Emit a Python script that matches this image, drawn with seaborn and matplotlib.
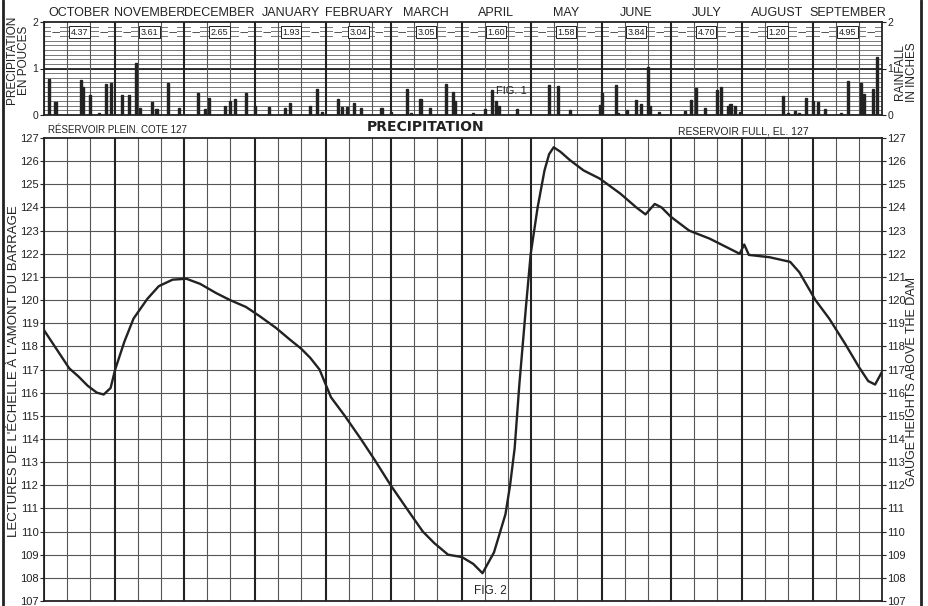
import matplotlib
matplotlib.use("Agg")
import matplotlib.pyplot as plt
from matplotlib.lines import Line2D
import seaborn as sns
import numpy as np
import pandas as pd

# ---------------- data ----------------
months = ["OCTOBER", "NOVEMBER", "DECEMBER", "JANUARY", "FEBRUARY", "MARCH",
          "APRIL", "MAY", "JUNE", "JULY", "AUGUST", "SEPTEMBER"]
month_days = [31, 30, 31, 31, 28, 31, 30, 31, 30, 31, 31, 30]
month_totals = ["4.37", "3.61", "2.65", "1.93", "3.04", "3.05",
                "1.60", "1.58", "3.84", "4.70", "1.20", "4.95"]

# daily rainfall (day of water year starting 1 October, inches)
rain_day = [2, 5, 16, 17, 20, 24, 27, 29, 34, 37, 40, 42, 47, 49, 54, 59,
            67, 70, 72, 79, 81, 83, 88, 92, 98, 105, 107, 116, 119, 121,
            128, 130, 132, 135, 138, 147, 151, 158, 160, 164, 168, 175, 178,
            179, 187, 192, 195, 197, 198, 206, 220, 224, 229, 242, 243, 249,
            250, 254, 258, 260, 263, 264, 268, 279, 282, 284, 288, 293, 295,
            298, 299, 301, 303, 322, 324, 327, 329, 332, 335, 337, 340, 347,
            350, 356, 357, 361, 363]
rain_in = [0.77, 0.29, 0.75, 0.60, 0.43, 0.05, 0.67, 0.69, 0.43, 0.42, 1.12,
           0.15, 0.29, 0.12, 0.69, 0.15, 0.48, 0.12, 0.37, 0.20, 0.30, 0.35,
           0.47, 0.19, 0.17, 0.15, 0.26, 0.20, 0.55, 0.07, 0.35, 0.18, 0.18,
           0.26, 0.15, 0.15, 0.07, 0.55, 0.05, 0.35, 0.15, 0.67, 0.50, 0.30,
           0.05, 0.12, 0.53, 0.30, 0.20, 0.12, 0.65, 0.62, 0.10, 0.22, 0.48,
           0.64, 0.05, 0.10, 0.32, 0.23, 1.04, 0.20, 0.07, 0.08, 0.33, 0.59,
           0.16, 0.53, 0.61, 0.20, 0.24, 0.20, 0.07, 0.40, 0.05, 0.08, 0.04,
           0.36, 0.30, 0.27, 0.13, 0.04, 0.74, 0.69, 0.46, 0.55, 1.24]

# gauge height above the dam (feet)
gauge_day = [0, 4, 8, 11, 15, 19, 23, 26, 29, 31, 35, 39, 45, 50, 56, 62, 68,
             75, 81, 88, 94, 101, 107, 112, 116, 120, 125, 131, 138, 144, 151,
             159, 165, 170, 176, 182, 187, 191, 196, 201, 203, 205, 207, 210,
             212, 215, 218, 220, 222, 225, 229, 235, 242, 251, 258, 262, 266,
             269, 273, 281, 290, 299, 303, 305, 307, 316, 325, 329, 336, 342,
             349, 355, 359, 362, 365]
gauge_ft = [118.7, 118.1, 117.5, 117.05, 116.7, 116.3, 116.0, 115.92, 116.2,
            117.0, 118.2, 119.2, 120.05, 120.6, 120.88, 120.92, 120.7, 120.3,
            120.0, 119.7, 119.3, 118.8, 118.3, 117.9, 117.5, 117.0, 115.8,
            115.0, 114.0, 113.1, 112.0, 110.85, 110.0, 109.5, 109.0, 108.9,
            108.6, 108.2, 109.1, 110.75, 112.0, 113.6, 116.3, 119.8, 122.0,
            124.0, 125.6, 126.3, 126.6, 126.4, 126.05, 125.6, 125.25, 124.6,
            124.0, 123.7, 124.15, 124.0, 123.6, 123.0, 122.65, 122.2, 122.0,
            122.4, 121.95, 121.85, 121.65, 121.2, 120.0, 119.2, 118.1, 117.1,
            116.5, 116.35, 116.9]

# ---------------- style ----------------
sns.set_theme(style="white")
plt.rcParams['font.family'] = ['DejaVu Sans']
narrow = ['Liberation Sans', 'DejaVu Sans']
ink = "#222222"
grid_c = "#555555"

W, H = 929, 606
fig = plt.figure(figsize=(W / 100, H / 100), dpi=100)
fig.patch.set_facecolor("white")
L, R = 44 / W, 882 / W
ax1 = fig.add_axes([L, 1 - 115 / H, R - L, (115 - 22) / H])
ax2 = fig.add_axes([L, 1 - 601 / H, R - L, (601 - 138) / H])

month_start = np.concatenate([[0], np.cumsum(month_days)])
n_days = month_start[-1]


def vertical_grid(ax):
    for s in month_start[:-1]:
        ax.axvline(s, color=ink, lw=1.5, zorder=1)
        ax.axvline(s + 10, color=grid_c, lw=0.8, zorder=1)
        ax.axvline(s + 20, color=grid_c, lw=0.8, zorder=1)


# ---------------- top panel: precipitation ----------------
rain = pd.DataFrame({"day": rain_day, "inches": rain_in})
sns.barplot(data=rain, x="day", y="inches", native_scale=True, color=ink,
            saturation=1, width=0.9, edgecolor=ink, linewidth=1.0,
            ax=ax1, zorder=3)
for v in np.arange(0.1, 2.0, 0.1):
    ax1.axhline(v, color=grid_c, lw=0.55, zorder=1)
ax1.axhline(1.0, color=ink, lw=1.3, zorder=1)
vertical_grid(ax1)
ax1.set_xlim(0, n_days)
ax1.set_ylim(0, 2)
ax1.set_xticks([])
ax1.set_yticks([0, 1, 2])
ax1.set_yticklabels(["0", "1", "2"])
ax1.tick_params(axis="y", left=True, right=True, labelleft=True,
                labelright=True, length=3, width=0.8, pad=1, labelsize=7.5,
                colors=ink)
ax1.set_xlabel("")
ax1.set_ylabel("")

for i, name in enumerate(months):
    s, e = month_start[i], month_start[i + 1]
    mid = (s + e) / 2
    ax1.text(mid, 2.06, name, ha="center", va="bottom", fontsize=9,
             color=ink, family=narrow)
    ax1.text(mid, 1.78, month_totals[i], ha="center", va="center",
             fontsize=6.5, color=ink, zorder=5, family=narrow,
             bbox=dict(boxstyle="square,pad=0.15", fc="white", ec=ink, lw=0.7))
    ax1.text(s + 5, 1.78, "—", ha="center", va="center", fontsize=6,
             color=ink, zorder=5,
             bbox=dict(boxstyle="square,pad=0.05", fc="white", ec="none"))
    ax1.text(e - 5, 1.78, "—", ha="center", va="center", fontsize=6,
             color=ink, zorder=5,
             bbox=dict(boxstyle="square,pad=0.05", fc="white", ec="none"))
ax1.text(197, 0.52, "FIG. 1", ha="left", va="center", fontsize=8,
         color=ink, zorder=5, family=narrow)

# ---------------- bottom panel: gauge heights ----------------
for v in range(108, 127):
    ax2.axhline(v, color=grid_c, lw=0.8, zorder=1)
vertical_grid(ax2)
sns.lineplot(x=gauge_day, y=gauge_ft, ax=ax2, color=ink, lw=1.7, zorder=4)
ax2.set_xlim(0, n_days)
ax2.set_ylim(107, 127)
ax2.set_xticks([])
ax2.set_yticks(list(range(107, 128)))
ax2.set_yticklabels([str(v) for v in range(107, 128)])
ax2.tick_params(axis="y", left=True, right=True, labelleft=True,
                labelright=True, length=3, width=0.8, pad=1, labelsize=8,
                colors=ink)

for ax in (ax1, ax2):
    for t in ax.yaxis.get_major_ticks():
        t.label2.set_family(narrow)
        t.label1.set_family(narrow)
    for sp in ax.spines.values():
        sp.set_visible(True)
        sp.set_color(ink)
        sp.set_linewidth(1.3)

ax2.text(187.5, 107.45, "FIG. 2", ha="left", va="center", fontsize=8.5,
         color=ink, zorder=5, family=narrow)

# ---------------- labels ----------------
fig.text(426 / W, 1 - 127 / H, "PRECIPITATION", ha="center", va="center",
         fontsize=10, fontweight="bold", color=ink)
fig.text(48 / W, 1 - 130 / H, "RÉSERVOIR PLEIN. COTE 127", ha="left",
         va="center", fontsize=7, color=ink, family=narrow)
fig.text(678 / W, 1 - 131 / H, "RESERVOIR FULL, EL. 127", ha="left",
         va="center", fontsize=7.5, color=ink, family=narrow)
fig.text(14 / W, 1 - 371 / H, "LECTURES DE L'ÉCHELLE À L'AMONT DU BARRAGE",
         rotation=90, ha="center", va="center", fontsize=9.5, color=ink,
         family=narrow)
fig.text(912 / W, 1 - 382 / H, "GAUGE HEIGHTS ABOVE THE DAM",
         rotation=90, ha="center", va="center", fontsize=9, color=ink,
         family=narrow)
fig.text(18 / W, 1 - 60 / H, "PRECIPITATION\nEN POUCES", rotation=90,
         ha="center", va="center", fontsize=8.5, color=ink, family=narrow,
         multialignment="center", linespacing=1.0)
fig.text(906 / W, 1 - 72 / H, "RAINFALL\nIN INCHES", rotation=90,
         ha="center", va="center", fontsize=8.5, color=ink, family=narrow,
         multialignment="center", linespacing=1.0)

fig.add_artist(Line2D([2.5 / W, 2.5 / W], [0, 1], transform=fig.transFigure,
                      color=ink, lw=2))
fig.add_artist(Line2D([921 / W, 921 / W], [0, 1], transform=fig.transFigure,
                      color=ink, lw=2))

fig.savefig("out.png", dpi=100, facecolor="white")
